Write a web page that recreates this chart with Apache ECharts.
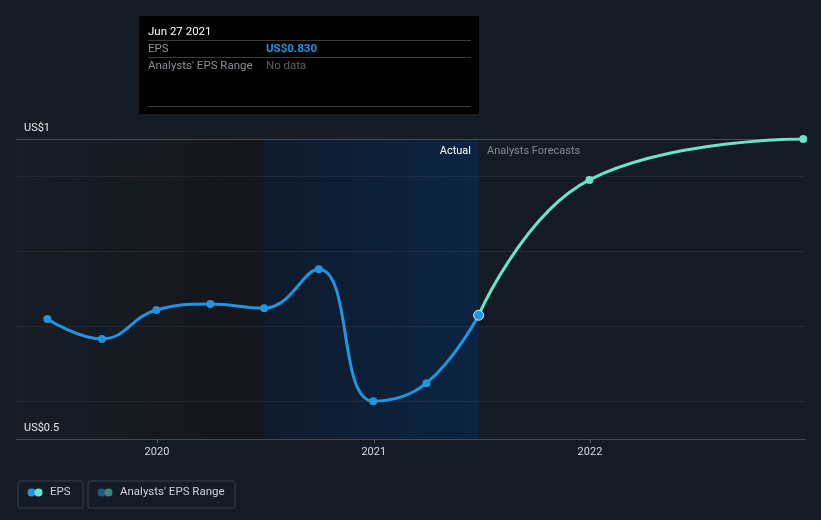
<!DOCTYPE html>
<html>
<head>
<meta charset="utf-8">
<script src="https://cdn.jsdelivr.net/npm/echarts@6/dist/echarts.min.js"></script>
<style>
html,body{margin:0;padding:0;background:#151b25;}
#chart{width:821px;height:520px;}
</style>
</head>
<body>
<div id="chart"></div>
<script>
// ---- data ----
const epsDates = ['2019-06-30','2019-09-30','2019-12-31','2020-03-31','2020-06-30','2020-09-30','2020-12-31','2021-03-31','2021-06-27'];
const epsValues = [0.820, 0.767, 0.844, 0.860, 0.849, 0.953, 0.601, 0.649, 0.830];
const forecastDates = ['2021-06-27','2021-12-31','2022-12-27'];
const forecastValues = [0.830, 1.191, 1.300];
const xTickLabels = ['2020','2021','2022'];
const yTickValues = [0.5, 1.3];
const yTickLabels = ['US$0.5','US$1'];
const pastStart = '2019-05-08';
const actualStart = '2020-06-30';
const actualEnd = '2021-06-27';
const axisEnd = '2022-12-30';
const tooltipDate = 'Jun 27 2021';
const tooltipEps = 'US$0.830';

const T = s => Date.parse(s + 'T00:00:00Z');
const FONT = 'Roboto, "Noto Sans", sans-serif';
const chart = echarts.init(document.getElementById('chart'));
const gridC = 'rgba(255,255,255,0.065)';
const lastIdx = epsDates.length - 1;
const xTickValues = xTickLabels.map(y => T(y + '-01-01'));

const option = {
  backgroundColor: '#151b25',
  animation: false,
  textStyle: {fontFamily: FONT},
  grid: {left: 16, right: 16, top: 139, bottom: 81, containLabel: false},
  xAxis: {
    type: 'value',
    min: T(pastStart),
    max: T(axisEnd),
    z: 3,
    axisLine: {show: true, onZero: false, lineStyle: {color: '#464b54', width: 1}},
    axisTick: {show: true, length: 4, lineStyle: {color: '#555a62'}, customValues: xTickValues},
    axisLabel: {
      color: '#d8dbe0', fontSize: 11, margin: 8, fontFamily: FONT,
      customValues: xTickValues,
      formatter: v => {
        const i = xTickValues.indexOf(v);
        return i >= 0 ? xTickLabels[i] : String(new Date(v).getUTCFullYear());
      }
    },
    splitLine: {show: false}
  },
  yAxis: {
    type: 'value',
    min: 0.5, max: 1.3, interval: 0.1,
    z: 3,
    axisLine: {show: false},
    axisTick: {show: false},
    axisLabel: {
      inside: true, margin: 8, color: '#e6e8eb', fontSize: 11, fontFamily: FONT,
      verticalAlign: 'bottom', padding: [0,0,5,0],
      showMinLabel: true, showMaxLabel: true,
      formatter: v => {
        for (let i = 0; i < yTickValues.length; i++) if (Math.abs(v - yTickValues[i]) < 1e-6) return yTickLabels[i];
        return '';
      }
    },
    splitLine: {show: true, lineStyle: {width: 1, color: ['rgba(0,0,0,0)', gridC, 'rgba(0,0,0,0)', gridC, 'rgba(0,0,0,0)', gridC, 'rgba(0,0,0,0)', gridC, '#4a4f58']}}
  },
  series: [
    {
      type: 'line', data: [], z: 0, silent: true,
      markArea: {
        silent: true,
        data: [
          [{xAxis: T(pastStart), itemStyle: {color: new echarts.graphic.LinearGradient(0,0,1,0,[{offset:0,color:'#171c25'},{offset:1,color:'#13161c'}])}}, {xAxis: T(actualStart)}],
          [{xAxis: T(actualStart), itemStyle: {color: new echarts.graphic.LinearGradient(0,0,1,0,[{offset:0,color:'#0f1a2b'},{offset:1,color:'#0b2443'}])}}, {xAxis: T(actualEnd)}]
        ]
      }
    },
    {
      name: 'Forecast', type: 'line', z: 4,
      data: forecastDates.map((d, i) => [T(d), forecastValues[i]]),
      smooth: 0.45,
      symbol: 'circle', symbolSize: 8, showSymbol: true,
      lineStyle: {color: '#6ce3cb', width: 3},
      itemStyle: {color: '#6ce3cb'}
    },
    {
      name: 'EPS', type: 'line', z: 5,
      data: epsDates.map((d, i) => {
        if (i === lastIdx) return {value: [T(d), epsValues[i]], symbolSize: 10, itemStyle: {color: '#2394df', borderColor: '#dfe9f5', borderWidth: 1}};
        return [T(d), epsValues[i]];
      }),
      smooth: 0.45,
      symbol: 'circle', symbolSize: 8, showSymbol: true,
      lineStyle: {color: '#2394df', width: 3},
      itemStyle: {color: '#2394df'}
    }
  ],
  graphic: [
    {type: 'rect', left: 139, top: 16, shape: {width: 340, height: 98}, style: {fill: '#000'}, z: 10},
    {type: 'text', left: 148, top: 26, style: {text: tooltipDate, fill: '#ffffff', font: '11.5px ' + FONT}, z: 11},
    {type: 'line', shape: {x1: 148, y1: 40.5, x2: 471, y2: 40.5}, style: {stroke: '#3c3c3c', lineWidth: 1}, z: 11},
    {type: 'text', left: 148, top: 43, style: {text: 'EPS', fill: '#8b8f96', font: '11.5px ' + FONT}, z: 11},
    {type: 'text', left: 266, top: 43, style: {text: tooltipEps, fill: '#2394df', font: 'bold 11.5px ' + FONT}, z: 11},
    {type: 'line', shape: {x1: 148, y1: 57.5, x2: 471, y2: 57.5}, style: {stroke: '#3c3c3c', lineWidth: 1}, z: 11},
    {type: 'text', left: 148, top: 60, style: {text: "Analysts' EPS Range", fill: '#8b8f96', font: '11.5px ' + FONT}, z: 11},
    {type: 'text', left: 266, top: 60, style: {text: 'No data', fill: '#5c6066', font: '11.5px ' + FONT}, z: 11},
    {type: 'line', shape: {x1: 148, y1: 106.5, x2: 471, y2: 106.5}, style: {stroke: '#3c3c3c', lineWidth: 1}, z: 11},
    {type: 'text', right: 821 - 471, top: 146, style: {text: 'Actual', fill: '#ffffff', font: '11px ' + FONT}, z: 11},
    {type: 'text', left: 487, top: 146, style: {text: 'Analysts Forecasts', fill: '#858a93', font: '11px ' + FONT}, z: 11},
    {type: 'rect', left: 15.5, top: 478.5, shape: {width: 65, height: 27, r: 2}, style: {fill: 'none', stroke: '#3a4049', lineWidth: 1}, z: 11},
    {type: 'circle', shape: {cx: 31.5, cy: 492.5, r: 4}, style: {fill: '#2394df'}, z: 11},
    {type: 'circle', shape: {cx: 38.5, cy: 492.5, r: 4}, style: {fill: '#6ce3cb'}, z: 12},
    {type: 'text', left: 50, top: 486, style: {text: 'EPS', fill: '#cfd3d8', font: '11.5px ' + FONT}, z: 11},
    {type: 'rect', left: 85.5, top: 478.5, shape: {width: 147, height: 27, r: 2}, style: {fill: 'none', stroke: '#3a4049', lineWidth: 1}, z: 11},
    {type: 'circle', shape: {cx: 101.5, cy: 492.5, r: 4}, style: {fill: '#1f5b85'}, z: 11},
    {type: 'circle', shape: {cx: 108.5, cy: 492.5, r: 4}, style: {fill: '#3e8580'}, z: 12},
    {type: 'text', left: 120, top: 486, style: {text: "Analysts' EPS Range", fill: '#cfd3d8', font: '11.5px ' + FONT}, z: 11}
  ]
};
chart.setOption(option);
</script>
</body>
</html>
